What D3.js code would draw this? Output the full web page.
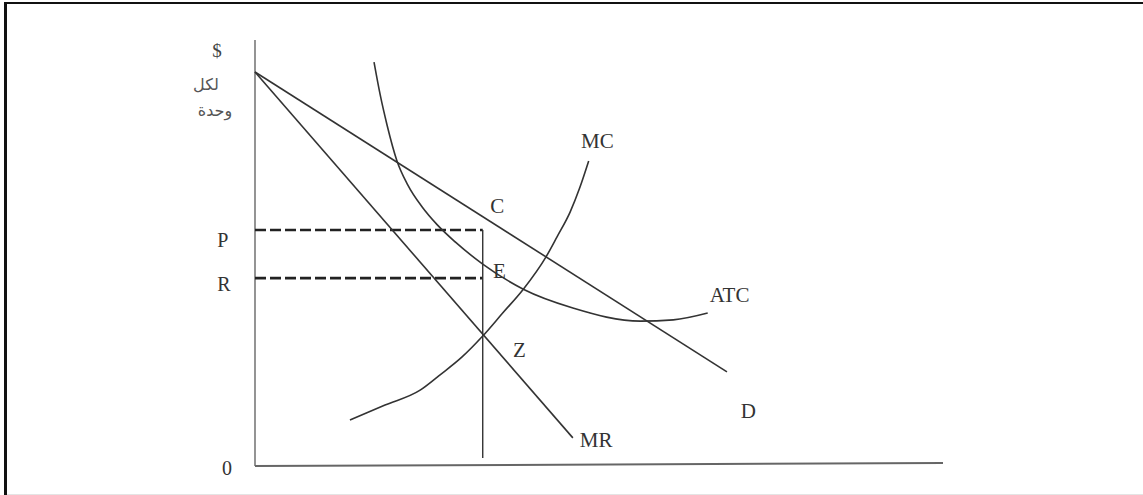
<!DOCTYPE html>
<html>
<head>
<meta charset="utf-8">
<script src="https://cdn.jsdelivr.net/npm/d3@7"></script>
<style>
  html, body { margin: 0; padding: 0; background: #fff; }
  svg { display: block; }
</style>
</head>
<body>
<svg id="chart" width="1143" height="495"></svg>
<script>
// ---- Data (quantity Q on 0..100, price P on 0..100) ----
const demandD = [[0, 92.5], [68.6, 22.1]];
const marginalRevenueMR = [[0, 92.5], [46.2, 6.6]];
const marginalCostMC = [
  [13.8, 10.8], [18.9, 14.3], [24.0, 17.8], [26.9, 21.4], [30.1, 25.6],
  [33.1, 30.5], [36.0, 35.9], [39.0, 41.5], [42.3, 49.1], [43.9, 53.8],
  [45.8, 59.6], [47.2, 65.3], [48.5, 71.6]
];
const averageCostATC = [
  [17.3, 94.8], [18.2, 87.1], [19.2, 80.0], [20.6, 71.8], [22.2, 66.0],
  [24.3, 60.8], [26.5, 56.6], [29.1, 52.6], [33.1, 47.4], [39.0, 41.5],
  [46.2, 37.1], [56.0, 34.0], [60.8, 34.3], [65.8, 35.9]
];
const quantityQ = 33.1;
const priceP = 55.4;
const costR = 44.1;
const verticalBottom = 1.9;
const xAxisLine = [[0, 0], [100, 0.7]];
const yAxisLine = [[0, 0], [0, 100]];

const curveLabels = [
  { text: "MC", q: 47.4, p: 74.6 },
  { text: "ATC", q: 66.1, p: 38.5 },
  { text: "D", q: 70.6, p: 11.3 },
  { text: "MR", q: 47.2, p: 4.5 },
  { text: "C", q: 34.2, p: 59.4 },
  { text: "E", q: 34.6, p: 44.1 },
  { text: "Z", q: 37.5, p: 25.6 }
];
const axisLabels = [
  { text: "P", q: -5.5, p: 51.4 },
  { text: "R", q: -5.5, p: 41.1 },
  { text: "0", q: -4.8, p: -2.1 }
];
const unitLabels = ["$", "لكل", "وحدة"];

// ---- Scales ----
const x = d3.scaleLinear().domain([0, 100]).range([255, 943]);
const y = d3.scaleLinear().domain([0, 100]).range([466, 40]);

const svg = d3.select("#chart");

// frame
svg.append("line").attr("x1", 4).attr("y1", 3).attr("x2", 1143).attr("y2", 3)
  .attr("stroke", "#111").attr("stroke-width", 2);
svg.append("line").attr("x1", 5.5).attr("y1", 2).attr("x2", 5.5).attr("y2", 495)
  .attr("stroke", "#111").attr("stroke-width", 3);
svg.append("line").attr("x1", 7).attr("y1", 494.5).attr("x2", 1143).attr("y2", 494.5)
  .attr("stroke", "#e4e4e4").attr("stroke-width", 1);

const line = d3.line().x(d => x(d[0])).y(d => y(d[1]));
const smooth = d3.line().x(d => x(d[0])).y(d => y(d[1])).curve(d3.curveMonotoneX);

// axes
svg.append("path").attr("d", line(yAxisLine))
  .attr("fill", "none").attr("stroke", "#666").attr("stroke-width", 1.4);
svg.append("path").attr("d", line(xAxisLine))
  .attr("fill", "none").attr("stroke", "#666").attr("stroke-width", 2);

// dashed guides
[priceP, costR].forEach(v => {
  svg.append("path").attr("d", line([[0, v], [quantityQ, v]]))
    .attr("fill", "none").attr("stroke", "#222").attr("stroke-width", 2.6)
    .attr("stroke-dasharray", "11,4");
});
// vertical drop line
svg.append("path").attr("d", line([[quantityQ, verticalBottom], [quantityQ, priceP]]))
  .attr("fill", "none").attr("stroke", "#333").attr("stroke-width", 1.4);

// curves
const stroke = "#333";
svg.append("path").attr("d", line(demandD)).attr("fill", "none").attr("stroke", stroke).attr("stroke-width", 1.6);
svg.append("path").attr("d", line(marginalRevenueMR)).attr("fill", "none").attr("stroke", stroke).attr("stroke-width", 1.6);
svg.append("path").attr("d", smooth(marginalCostMC)).attr("fill", "none").attr("stroke", stroke).attr("stroke-width", 1.6);
svg.append("path").attr("d", smooth(averageCostATC)).attr("fill", "none").attr("stroke", stroke).attr("stroke-width", 1.6);

// labels
const serif = "'Liberation Serif', 'Times New Roman', serif";
svg.selectAll("text.curve").data(curveLabels).join("text")
  .attr("class", "curve")
  .attr("x", d => x(d.q)).attr("y", d => y(d.p))
  .attr("font-family", serif).attr("font-size", 21).attr("fill", "#333")
  .text(d => d.text);
svg.selectAll("text.axis").data(axisLabels).join("text")
  .attr("class", "axis")
  .attr("x", d => x(d.q)).attr("y", d => y(d.p))
  .attr("font-family", serif).attr("font-size", 20).attr("fill", "#333")
  .text(d => d.text);

// unit label ($ per unit)
svg.append("text").attr("x", 217).attr("y", 57).attr("text-anchor", "middle")
  .attr("font-family", serif).attr("font-size", 19).attr("fill", "#444").text(unitLabels[0]);
svg.append("text").attr("x", 206).attr("y", 90).attr("text-anchor", "middle")
  .attr("font-family", "'DejaVu Sans', sans-serif").attr("font-size", 16).attr("fill", "#555")
  .text(unitLabels[1]);
svg.append("text").attr("x", 215).attr("y", 116).attr("text-anchor", "middle")
  .attr("font-family", "'DejaVu Sans', sans-serif").attr("font-size", 16).attr("fill", "#555")
  .text(unitLabels[2]);
</script>
</body>
</html>
